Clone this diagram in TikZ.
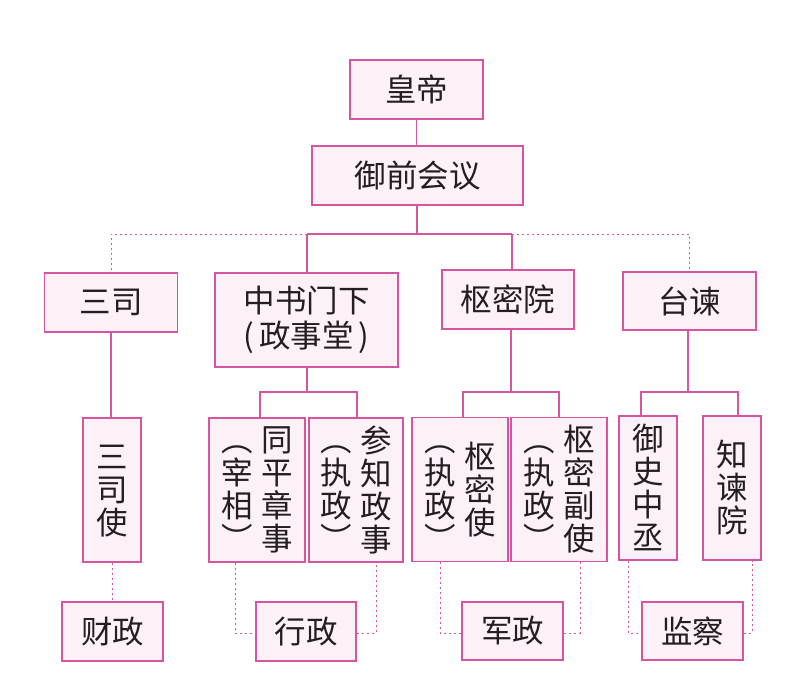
\documentclass[tikz,border=0pt]{standalone}
\usepackage{fontspec}
\newfontfamily\cjk{Noto Sans CJK SC}
\definecolor{pk}{RGB}{214,84,160}
\definecolor{pkfill}{RGB}{252,241,247}
\definecolor{inkc}{RGB}{35,30,35}
\newcommand{\vcol}[1]{\vcenter{\baselineskip=33pt\lineskiplimit=-\maxdimen\halign{\hfil##\vphantom{国}\hfil\cr#1\crcr}}}
\tikzset{
  box/.style={draw=pk, line width=1.6pt, fill=pkfill, inner sep=0pt, text=inkc,
    font=\cjk\fontsize{31.5}{33}\selectfont, align=center},
  hbox/.style={box, minimum height=59},
  vbox/.style={box, minimum height=144},
  conn/.style={draw=pk, line width=1.3pt},
  dots/.style={draw=pk, line width=1pt, dash pattern=on 2pt off 3pt}
}
\begin{document}
\begin{tikzpicture}[x=1pt,y=-1pt]
\useasboundingbox (0,0) rectangle (805,693);
% top
\node[hbox, minimum width=133] (hd) at (416.5,89.5) {皇帝};
\node[hbox, minimum width=211] (yq) at (417.5,175.5) {御前会议};
% second row
\node[hbox, minimum width=133] (ss) at (111,302.5) {三司};
\node[box, minimum width=183, minimum height=94] (zs) at (306.5,320) {中书门下\\[2pt](\hspace{5pt}政事堂\hspace{5pt})};
\node[hbox, minimum width=132] (smy) at (508,299.5) {枢密院};
\node[hbox, minimum width=133, minimum height=58] (tj) at (689.5,301) {台谏};
% third row
\node[vbox, minimum width=58] (ssy) at (112,490) {$\vcol{三\cr 司\cr 使}$};
\node[vbox, minimum width=96] (tp) at (257,490) {$\vcol{︵\cr 宰\cr 相\cr ︶}\hspace{8pt}\vcol{同\cr 平\cr 章\cr 事}$};
\node[vbox, minimum width=94] (cz) at (356,490) {$\vcol{︵\cr 执\cr 政\cr ︶}\hspace{8pt}\vcol{参\cr 知\cr 政\cr 事}$};
\node[vbox, minimum width=96] (sms) at (460,489.5) {$\vcol{︵\cr 执\cr 政\cr ︶}\hspace{8pt}\vcol{枢\cr 密\cr 使}$};
\node[vbox, minimum width=96] (smf) at (559,489.5) {$\vcol{︵\cr 执\cr 政\cr ︶}\hspace{8pt}\vcol{枢\cr 密\cr 副\cr 使}$};
\node[vbox, minimum width=58] (ys) at (648,488) {$\vcol{御\cr 史\cr 中\cr 丞}$};
\node[vbox, minimum width=58] (zjy) at (732,488) {$\vcol{知\cr 谏\cr 院}$};
% bottom row
\node[hbox, minimum width=101] (cai) at (112.5,631.5) {财政};
\node[hbox, minimum width=100] (xz) at (306,631.5) {行政};
\node[hbox, minimum width=101, minimum height=58] (jz) at (512.5,631) {军政};
\node[hbox, minimum width=101, minimum height=58] (jc) at (692.5,631) {监察};
% bus coordinates
\coordinate (bus) at (417,234);
\coordinate (bl) at (307,234);
\coordinate (br) at (512,234);
\coordinate (zj) at (307,392);
\coordinate (sj) at (511,392);
\coordinate (tjj) at (688,392);
% connectors
\draw[conn] (hd.south) -- (hd.south |- yq.north);
\draw[conn] (yq.south -| bus) -- (bus);
\draw[conn] (bl) -- (br);
\draw[conn] (bl) -- (bl |- zs.north);
\draw[conn] (br) -- (br |- smy.north);
\draw[dots] (bl) -| (ss.north);
\draw[dots] (br) -| (tj.north);
\draw[conn] (ss.south) -- (ss.south |- ssy.north);
\draw[conn] (zs.south -| zj) -- (zj);
\draw[conn] ([xshift=3pt]tp.north) |- (zj) -| ([xshift=1pt]cz.north);
\draw[conn] (smy.south -| sj) -- (sj);
\draw[conn] ([xshift=3pt]sms.north) |- (sj) -| (smf.north);
\draw[conn] (tj.south -| tjj) -- (tjj);
\draw[conn] ([xshift=-7pt]ys.north) |- (tjj) -| ([xshift=6pt]zjy.north);
% dotted to bottom row
\draw[dots] (ssy.south) -- (ssy.south |- cai.north);
\draw[dots] ([xshift=-22pt]tp.south) |- ([yshift=-1.5pt]xz.west);
\draw[dots] ([yshift=-1.5pt]xz.east) -| ([xshift=20pt]cz.south);
\draw[dots] ([xshift=-20pt]sms.south) |- ([yshift=-2pt]jz.west);
\draw[dots] ([yshift=-2pt]jz.east) -| ([xshift=21pt]smf.south);
\draw[dots] ([xshift=-20pt]ys.south) |- ([yshift=-2pt]jc.west);
\draw[dots] ([yshift=-2pt]jc.east) -| ([xshift=20pt]zjy.south);
\end{tikzpicture}
\end{document}
